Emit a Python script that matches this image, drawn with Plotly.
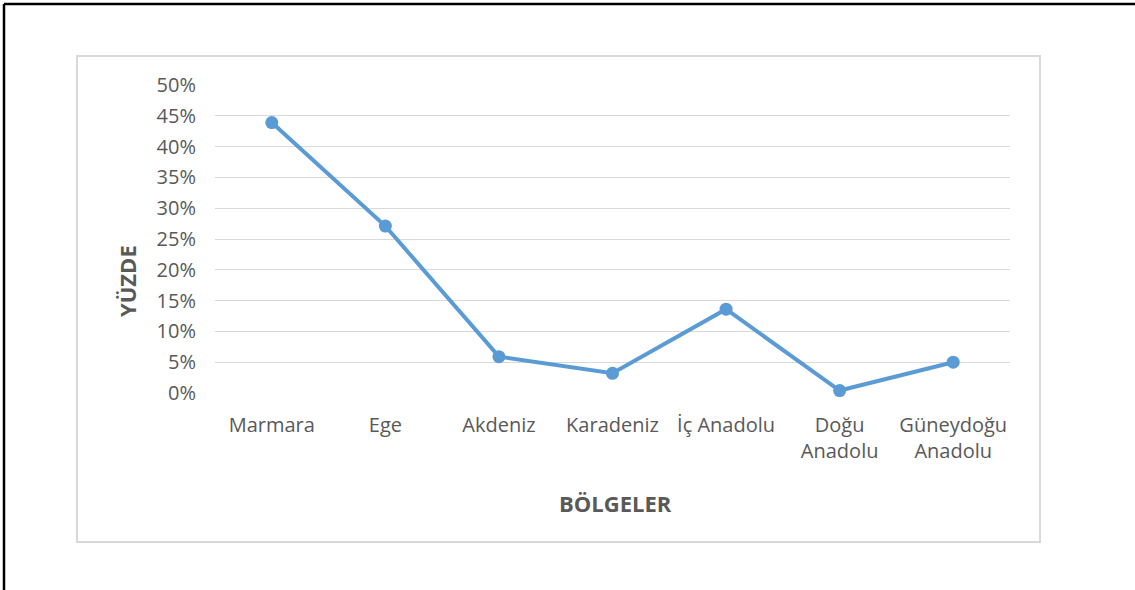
import plotly.graph_objects as go

regions = ["Marmara", "Ege", "Akdeniz", "Karadeniz", "İç Anadolu", "Doğu<br>Anadolu", "Güneydoğu<br>Anadolu"]
percent = [0.439, 0.271, 0.059, 0.032, 0.136, 0.004, 0.050]
y_ticks = [0, 0.05, 0.10, 0.15, 0.20, 0.25, 0.30, 0.35, 0.40, 0.45, 0.50]
y_tick_text = ["0%", "5%", "10%", "15%", "20%", "25%", "30%", "35%", "40%", "45%", "50%"]

W, H = 1135, 590
L, R, T, B = 215, 1010, 85, 393


def px(xp):
    return (xp - L) / (R - L)


def py(yp):
    return (B - yp) / (B - T)


fig = go.Figure()
fig.add_trace(go.Scatter(
    x=regions, y=percent, mode="lines+markers",
    line=dict(color="#5B9BD5", width=4),
    marker=dict(color="#5B9BD5", size=13),
    cliponaxis=False, showlegend=False,
))

font_family = "'Open Sans', Lato, sans-serif"
fig.update_layout(
    width=W, height=H,
    margin=dict(l=L, r=W - R, t=T, b=H - B, pad=0),
    paper_bgcolor="white", plot_bgcolor="white",
    font=dict(family=font_family, color="#595959", size=20),
    xaxis=dict(type="category", showgrid=False, showline=False, zeroline=False,
               ticks="", ticklabelstandoff=18, tickfont=dict(size=20, color="#595959"),
               range=[-0.5, 6.5]),
    yaxis=dict(range=[0, 0.5], tickvals=y_ticks, ticktext=y_tick_text,
               showgrid=True, gridcolor="#D9D9D9", gridwidth=1, zeroline=False,
               showline=False, ticks="", ticklabelstandoff=18,
               tickfont=dict(size=20, color="#595959")),
    shapes=[
        dict(type="rect", xref="paper", yref="paper",
             x0=px(77), x1=px(1040), y0=py(542), y1=py(56),
             line=dict(color="#D9D9D9", width=2), layer="below"),
        dict(type="line", xref="paper", yref="paper",
             x0=px(4), x1=px(1140), y0=py(4), y1=py(4),
             line=dict(color="black", width=2.5)),
        dict(type="line", xref="paper", yref="paper",
             x0=px(4), x1=px(4), y0=py(4), y1=py(600),
             line=dict(color="black", width=2.5)),
    ],
    annotations=[
        dict(text="<b>YÜZDE</b>", xref="paper", yref="paper",
             x=px(127), y=py(281),
             textangle=-90, showarrow=False, xanchor="center", yanchor="middle",
             font=dict(size=22, color="#595959", family=font_family)),
        dict(text="<b>BÖLGELER</b>", xref="paper", yref="paper",
             x=px(615), y=py(503),
             showarrow=False, xanchor="center", yanchor="middle",
             font=dict(size=22, color="#595959", family=font_family)),
    ],
)

fig.write_html(
    "out.html",
    config={"displayModeBar": False},
    post_script="document.body.style.margin='0';document.body.style.overflow='hidden';",
)
